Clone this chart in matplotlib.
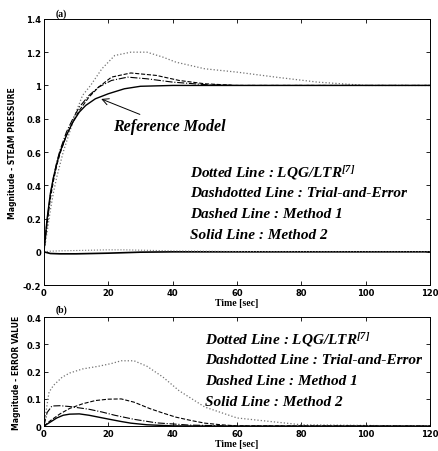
import numpy as np
import matplotlib
matplotlib.use("Agg")
import matplotlib.pyplot as plt

# ---- data ----
# (a) step response, steam pressure
t_m2 = [0, 1, 2, 3, 4, 5, 7, 9, 11, 13, 16, 20, 25, 30, 40, 60, 80, 100, 120]
y_m2 = [0, 0.2, 0.35, 0.45, 0.53, 0.6, 0.7, 0.78, 0.84, 0.88, 0.92, 0.95, 0.98, 0.995, 1.0, 1.0, 1.0, 1.0, 1.0]

t_m1 = [0, 1, 2, 3, 4, 5, 7, 9, 11, 14, 17, 21, 27, 35, 42, 50, 60, 80, 100, 120]
y_m1 = [0, 0.17, 0.32, 0.43, 0.52, 0.59, 0.7, 0.78, 0.85, 0.93, 0.99, 1.05, 1.075, 1.06, 1.03, 1.01, 1.0, 1.0, 1.0, 1.0]

t_te = [0, 1, 2, 3, 4, 5, 7, 9, 11, 14, 17, 21, 26, 32, 40, 50, 60, 80, 120]
y_te = [0, 0.19, 0.34, 0.45, 0.54, 0.61, 0.72, 0.8, 0.87, 0.94, 0.99, 1.03, 1.05, 1.04, 1.02, 1.005, 1.0, 1.0, 1.0]

t_lqg = [0, 1, 2, 3, 4, 6, 8, 10, 12, 14.5, 18, 22, 27, 32, 37, 41, 50, 60, 72, 85, 100, 120]
y_lqg = [0, 0.12, 0.25, 0.36, 0.45, 0.6, 0.72, 0.84, 0.94, 1.0, 1.1, 1.18, 1.2, 1.2, 1.17, 1.14, 1.1, 1.08, 1.05, 1.02, 1.0, 1.0]

# small disturbance traces near zero in (a)
t_z = [0, 2, 5, 10, 15, 20, 25, 30, 40, 60, 120]
z_m2 = [0, -0.01, -0.012, -0.012, -0.01, -0.008, -0.005, -0.002, 0, 0, 0]
z_lqg = [0, 0.004, 0.006, 0.008, 0.01, 0.012, 0.012, 0.01, 0.006, 0.002, 0]

# (b) error value
te_m2 = [0, 2, 4, 6, 8, 11, 14, 17, 20, 24, 27, 32, 40, 60, 120]
e_m2 = [0, 0.015, 0.03, 0.04, 0.044, 0.045, 0.04, 0.033, 0.026, 0.017, 0.011, 0.005, 0.001, 0, 0]

te_m1 = [0, 2, 5, 8, 12, 16, 20, 24, 28, 33, 37, 41, 46, 50, 55, 60, 120]
e_m1 = [0, 0.02, 0.045, 0.065, 0.082, 0.094, 0.099, 0.1, 0.088, 0.064, 0.048, 0.033, 0.02, 0.011, 0.005, 0.001, 0]

te_te = [0, 1, 2.5, 5, 8, 11, 14, 18, 22, 28, 35, 45, 60, 120]
e_te = [0, 0.05, 0.074, 0.075, 0.072, 0.067, 0.062, 0.052, 0.04, 0.025, 0.012, 0.004, 0, 0]

te_lqg = [0, 1, 1.6, 3, 5.7, 8, 12, 17, 21, 24, 28, 32, 37, 42, 50, 60, 80, 120]
e_lqg = [0, 0.08, 0.125, 0.15, 0.18, 0.195, 0.21, 0.22, 0.23, 0.24, 0.24, 0.22, 0.18, 0.13, 0.07, 0.03, 0.005, 0]

xticks = [0, 20, 40, 60, 80, 100, 120]
yticks_a = [-0.2, 0, 0.2, 0.4, 0.6, 0.8, 1, 1.2, 1.4]
ytick_lab_a = ['-0.2', '0', '0.2', '0.4', '0.6', '0.8', '1', '1.2', '1.4']
yticks_b = [0, 0.1, 0.2, 0.3, 0.4]
ytick_lab_b = ['0', '0.1', '0.2', '0.3', '0.4']

legend_lines = ["Dotted Line : LQG/LTR$^{[7]}$",
                "Dashdotted Line : Trial-and-Error",
                "Dashed Line : Method 1",
                "Solid Line : Method 2"]

plt.rcParams['mathtext.default'] = 'regular'
serif_bi = dict(family='Liberation Serif', weight='bold', style='italic')

fig = plt.figure(figsize=(4.39, 4.52), dpi=100)
ax1 = fig.add_axes([0.100, 0.367, 0.880, 0.589])
ax2 = fig.add_axes([0.100, 0.055, 0.880, 0.241])


def style_axes(ax):
    ax.set_xlim(0, 120)
    ax.set_xticks(xticks)
    ax.set_xticklabels([str(v) for v in xticks])
    ax.tick_params(direction='in', top=True, right=True, length=3, width=0.6,
                   labelsize=6, pad=2)
    for s in ax.spines.values():
        s.set_linewidth(0.7)
    for lab in ax.get_xticklabels() + ax.get_yticklabels():
        lab.set_fontweight('bold')
    ax.set_xlabel("Time [sec]", fontsize=7, fontweight='bold',
                  family='Liberation Serif', labelpad=1)


# (a)
ax1.plot(t_lqg, y_lqg, ':', color='0.45', lw=0.9)
ax1.plot(t_te, y_te, '-.', color='k', lw=0.8)
ax1.plot(t_m1, y_m1, '--', color='k', lw=0.8)
ax1.plot(t_m2, y_m2, '-', color='k', lw=1.0)
ax1.plot(t_z, z_m2, '-', color='k', lw=1.2)
ax1.plot(t_z, z_lqg, ':', color='0.45', lw=0.8)
ax1.set_ylim(-0.2, 1.4)
ax1.set_yticks(yticks_a)
ax1.set_yticklabels(ytick_lab_a)
style_axes(ax1)
ax1.set_ylabel("Magnitude - STEAM PRESSURE", fontsize=5.5, fontweight='bold', labelpad=4)
ax1.text(0.03, 1.005, "(a)", transform=ax1.transAxes, fontsize=7,
         fontweight='bold', family='Liberation Serif', va='bottom')
ax1.annotate("Reference Model", xy=(17, 0.925), xytext=(21.5, 0.755),
             fontsize=11.5, va='center', **serif_bi,
             arrowprops=dict(arrowstyle='->', lw=0.7, color='k'))
for i, s in enumerate(legend_lines):
    ax1.text(45.5, 0.48 - i * 0.126, s, fontsize=11, va='center', **serif_bi)

# (b)
ax2.plot(te_lqg, e_lqg, ':', color='0.45', lw=0.9)
ax2.plot(te_te, e_te, '-.', color='k', lw=0.8)
ax2.plot(te_m1, e_m1, '--', color='k', lw=0.8)
ax2.plot(te_m2, e_m2, '-', color='k', lw=1.0)
ax2.set_ylim(0, 0.4)
ax2.set_yticks(yticks_b)
ax2.set_yticklabels(ytick_lab_b)
style_axes(ax2)
ax2.set_ylabel("Magnitude - ERROR VALUE", fontsize=5.5, fontweight='bold', labelpad=4)
ax2.text(0.03, 1.03, "(b)", transform=ax2.transAxes, fontsize=7,
         fontweight='bold', family='Liberation Serif', va='bottom')
for i, s in enumerate(legend_lines):
    ax2.text(50, 0.32 - i * 0.077, s, fontsize=11, va='center', **serif_bi)

fig.savefig("out.png", dpi=100)
